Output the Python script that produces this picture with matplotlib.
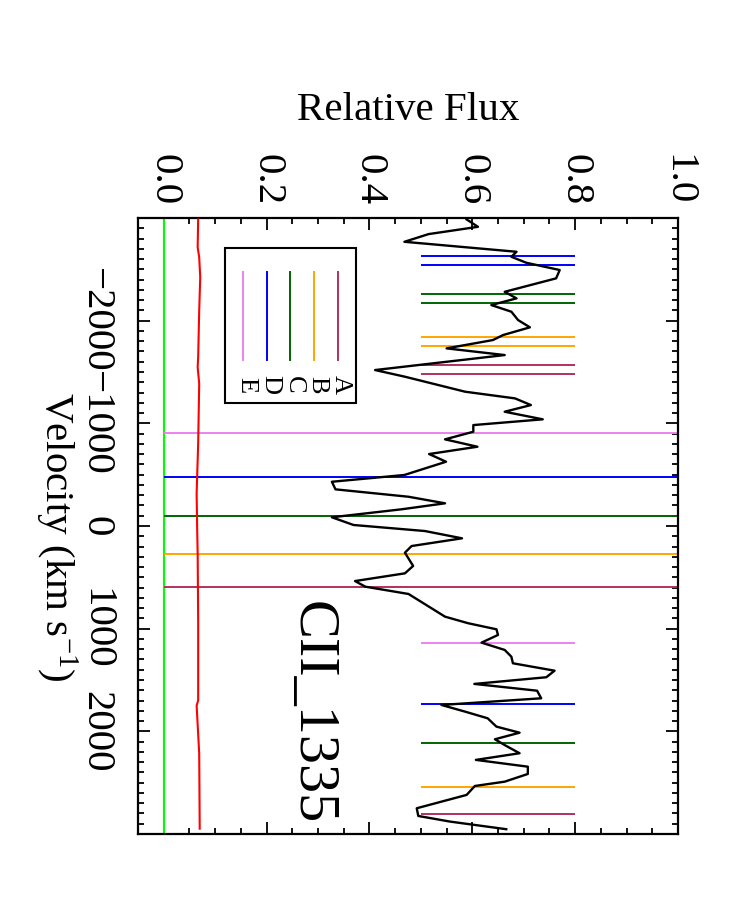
import matplotlib
matplotlib.use("Agg")
import matplotlib.pyplot as plt
from matplotlib.ticker import MultipleLocator, FixedLocator, FixedFormatter
from matplotlib.patches import Rectangle

plt.rcParams['font.family'] = ['Liberation Serif', 'DejaVu Serif']
plt.rcParams['mathtext.fontset'] = 'custom'
plt.rcParams['mathtext.rm'] = 'Liberation Serif'
plt.rcParams['mathtext.it'] = 'Liberation Serif:italic'

# ---------------- data ----------------
spec_vel = [-2986, -2914, -2843, -2768, -2671, -2622, -2564, -2493, -2412, -2281,
            -2217, -2152, -2087, -2006, -1935, -1860, -1811, -1730, -1665, -1519,
            -1454, -1308, -1243, -1178, -1113, -1039, -983, -918, -844, -772,
            -701, -626, -497, -431, -357, -285, -221, -163, -85, -10,
            49, 120, 195, 260, 389, 461, 536, 591, 662, 883,
            947, 1006, 1061, 1136, 1207, 1273, 1337, 1409, 1473, 1538,
            1604, 1678, 1743, 1808, 1873, 1921, 1954, 2013, 2077, 2142,
            2213, 2278, 2344, 2415, 2490, 2532, 2619, 2749, 2824, 2879, 2953]
spec_flux = [0.589, 0.611, 0.515, 0.468, 0.686, 0.676, 0.705, 0.770, 0.763, 0.663,
             0.686, 0.637, 0.676, 0.689, 0.712, 0.660, 0.640, 0.550, 0.663, 0.411,
             0.469, 0.586, 0.683, 0.714, 0.663, 0.737, 0.602, 0.602, 0.547, 0.610,
             0.516, 0.549, 0.468, 0.327, 0.334, 0.476, 0.547, 0.463, 0.327, 0.369,
             0.508, 0.580, 0.482, 0.469, 0.485, 0.469, 0.372, 0.392, 0.476, 0.547,
             0.592, 0.647, 0.650, 0.618, 0.663, 0.676, 0.679, 0.760, 0.744, 0.604,
             0.726, 0.734, 0.540, 0.586, 0.630, 0.640, 0.647, 0.692, 0.644, 0.666,
             0.692, 0.607, 0.708, 0.708, 0.663, 0.605, 0.589, 0.492, 0.495, 0.557, 0.666]

err_vel = [-2986, -2715, -2617, -2422, -2098, -1644, -1547, -1388, -803, -316,
           12, 268, 920, 1699, 1748, 2215, 2948]
err_flux = [0.067, 0.066, 0.069, 0.071, 0.069, 0.067, 0.066, 0.069, 0.067, 0.064,
            0.065, 0.066, 0.067, 0.067, 0.064, 0.069, 0.070]

comp_labels = ['A', 'B', 'C', 'D', 'E']
comp_colors = ['#b03060', '#ffa500', '#006400', '#0000ff', '#ee82ee']
comp_main_vel = [591, 273, -100, -474, -906]          # full-height lines
comp_blue_vel1 = [-1571, -1837, -2259, -2629, None]  # short lines, blue side
comp_blue_vel2 = [-1483, -1750, -2171, -2541, None]
comp_red_vel = [2807, 2538, 2113, 1736, 1136]         # short lines, red side

flux_ticks = [0.0, 0.2, 0.4, 0.6, 0.8, 1.0]
flux_ticklabels = ['0.0', '0.2', '0.4', '0.6', '0.8', '1.0']
vel_ticks = [-2000, -1000, 0, 1000, 2000]
vel_ticklabels = ['\u22122000', '\u22121000', '0', '1000', '2000']
line_name = 'CII_1335'

# ---------------- figure ----------------
fig = plt.figure(figsize=(7.5, 9), dpi=100)
ax = fig.add_axes([0.184, 0.0733, 0.720, 0.6845])
ax.set_xlim(-0.05, 1.0)
ax.set_ylim(3000, -3000)

# zero line and error spectrum
ax.axvline(0.0, color='#00ff00', lw=1.5, zorder=2)
ax.plot(err_flux, err_vel, color='red', lw=1.5, zorder=3)

# component markers
for i, c in enumerate(comp_colors):
    ax.hlines(comp_main_vel[i], 0.0, 1.0, color=c, lw=1.4, zorder=2)
    ax.hlines(comp_red_vel[i], 0.5, 0.8, color=c, lw=1.4, zorder=2)
    for v in (comp_blue_vel1[i], comp_blue_vel2[i]):
        if v is not None:
            ax.hlines(v, 0.5, 0.8, color=c, lw=1.4, zorder=2)

# spectrum
ax.plot(spec_flux, spec_vel, color='black', lw=1.7, zorder=4)

# label text
ax.text(0.288, 1821, line_name, rotation=-90, ha='center', va='center',
        fontsize=42, zorder=5)

# legend (drawn manually, rotated)
leg_x = [0.370, 0.326, 0.282, 0.239, 0.195]
ax.add_patch(Rectangle((0.161, 0.700), 0.243, 0.251, transform=ax.transAxes,
                       fill=False, edgecolor='black', lw=1.5, zorder=6))
for i, lab in enumerate(comp_labels):
    ax.plot([leg_x[i], leg_x[i]], [0.769, 0.913], transform=ax.transAxes,
            color=comp_colors[i], lw=1.4, zorder=6)
    ax.text(leg_x[i] + 0.006, 0.729, lab, transform=ax.transAxes, rotation=-90,
            ha='center', va='center', fontsize=19, zorder=6)

# axes styling
for s in ax.spines.values():
    s.set_linewidth(1.6)
ax.xaxis.set_major_locator(FixedLocator(flux_ticks))
ax.xaxis.set_major_formatter(FixedFormatter(flux_ticklabels))
ax.xaxis.set_minor_locator(MultipleLocator(0.05))
ax.yaxis.set_major_locator(FixedLocator(vel_ticks))
ax.yaxis.set_major_formatter(FixedFormatter(vel_ticklabels))
ax.yaxis.set_minor_locator(MultipleLocator(100))
ax.tick_params(which='both', direction='in', top=True, bottom=True, left=True,
               right=True, labeltop=True, labelbottom=False, labelleft=True,
               labelright=False, width=1.3)
ax.tick_params(which='major', length=8.5)
ax.tick_params(which='minor', length=4.5)
ax.tick_params(axis='x', labelsize=29.5, labelrotation=-90, pad=9)
ax.tick_params(axis='y', labelsize=29.5, labelrotation=-90, pad=17)
for t in ax.get_yticklabels():
    t.set_va('center')

ax.xaxis.set_label_position('top')
ax.set_xlabel('Relative Flux', fontsize=29.5)
ax.xaxis.label.set_va('center')
ax.xaxis.set_label_coords(0.5, 1.175)
ax.set_ylabel('Velocity (km s$^{-1}$)', fontsize=29.5, rotation=-90,
              ha='center', va='center')
ax.yaxis.set_label_coords(-0.152, 0.482)

fig.savefig('out.png', dpi=100)
